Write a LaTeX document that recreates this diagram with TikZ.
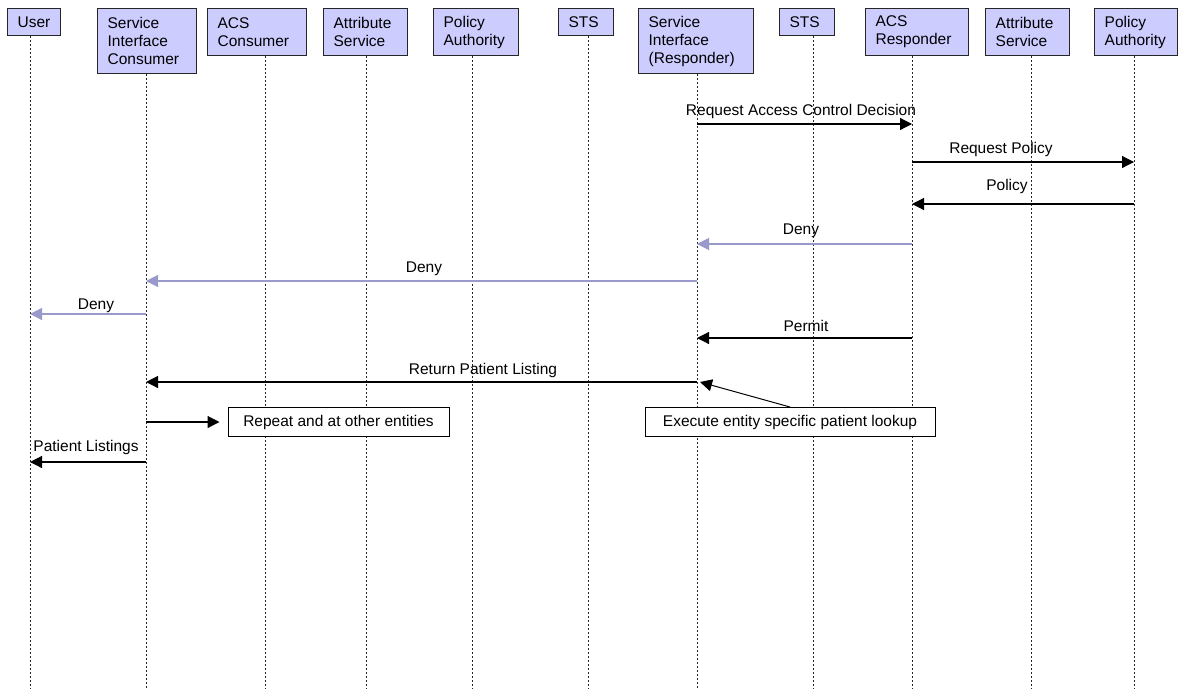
\documentclass[tikz,border=0pt]{standalone}
\usepackage{fontspec}
\setmainfont{Liberation Sans}
\usepackage{xcolor}
\usetikzlibrary{arrows.meta}

\definecolor{actorfill}{HTML}{CCCCFF}
\definecolor{denycolor}{HTML}{9999CC}

\tikzset{
	actor/.style={draw=black!85, fill=actorfill, line width=1.3pt, anchor=north west, align=left, inner xsep=10pt, inner ysep=0pt, font=\fontsize{15.5}{18}\selectfont},
	lifeline/.style={dash pattern=on 2pt off 2pt, line width=1pt, black!85},
	msg/.style={line width=1.2pt, -{Triangle[length=12pt,width=12pt]}},
	denymsg/.style={line width=1.2pt, draw=denycolor, -{Triangle[length=12pt,width=12pt,fill=denycolor]}},
	msglabel/.style={anchor=base, inner sep=0pt, font=\fontsize{15.5}{18}\selectfont},
	note/.style={draw, fill=white, line width=1pt, minimum height=29pt, inner sep=0pt, font=\fontsize{15.5}{18}\selectfont}
}

\begin{document}
\begin{tikzpicture}[x=1pt,y=-1pt]
		\useasboundingbox (0,0) rectangle (1178,689);
		\node[actor, text width=33pt, minimum height=27pt] (user) at (7,8) {User};
		\node[actor, text width=79pt, minimum height=65pt] (sic) at (97,8) {Service\\Interface\\Consumer};
		\node[actor, text width=79pt, minimum height=47pt] (acsc) at (207,8) {ACS\\Consumer};
		\node[actor, text width=64pt, minimum height=47pt] (attr) at (323,8) {Attribute\\Service};
		\node[actor, text width=65pt, minimum height=47pt] (pa) at (433,8) {Policy\\Authority};
		\node[actor, text width=35pt, minimum height=27pt] (sts) at (558,8) {STS};
		\node[actor, text width=95pt, minimum height=65pt] (sir) at (638,8) {Service\\Interface\\(Responder)};
		\node[actor, text width=35pt, minimum height=27pt] (sts2) at (779,8) {STS};
		\node[actor, text width=83pt, minimum height=47pt] (acsr) at (865,8) {ACS\\Responder};
		\node[actor, text width=64pt, minimum height=47pt] (attr2) at (985,8) {Attribute\\Service};
		\node[actor, text width=63pt, minimum height=47pt] (pa2) at (1094,8) {Policy\\Authority};

		\coordinate (user-end) at (30,689);
		\coordinate (sic-end) at (146,689);
		\coordinate (acsc-end) at (265,689);
		\coordinate (attr-end) at (366,689);
		\coordinate (pa-end) at (472,689);
		\coordinate (sts-end) at (588,689);
		\coordinate (sir-end) at (697,689);
		\coordinate (sts2-end) at (813,689);
		\coordinate (acsr-end) at (912,689);
		\coordinate (attr2-end) at (1031,689);
		\coordinate (pa2-end) at (1134,689);
		\draw[lifeline] (user-end |- user.south) -- (user-end);
		\draw[lifeline] (sic-end |- sic.south) -- (sic-end);
		\draw[lifeline] (acsc-end |- acsc.south) -- (acsc-end);
		\draw[lifeline] (attr-end |- attr.south) -- (attr-end);
		\draw[lifeline] (pa-end |- pa.south) -- (pa-end);
		\draw[lifeline] (sts-end |- sts.south) -- (sts-end);
		\draw[lifeline] (sir-end |- sir.south) -- (sir-end);
		\draw[lifeline] (sts2-end |- sts2.south) -- (sts2-end);
		\draw[lifeline] (acsr-end |- acsr.south) -- (acsr-end);
		\draw[lifeline] (attr2-end |- attr2.south) -- (attr2-end);
		\draw[lifeline] (pa2-end |- pa2.south) -- (pa2-end);

		\coordinate (m1) at (0,124);
		\coordinate (m2) at (0,162);
		\coordinate (m3) at (0,204);
		\coordinate (m4) at (0,244);
		\coordinate (m5) at (0,281);
		\coordinate (m6) at (0,314);
		\coordinate (m7) at (0,338);
		\coordinate (m8) at (0,382);
		\coordinate (m9) at (0,462);

		\node[note, minimum width=221pt] (repeat) at (338.5,422) {Repeat and at other entities};
		\node[note, minimum width=290pt] (exec) at (790,422) {Execute entity specific patient lookup};

		\draw[msg] (sir-end |- m1) -- (acsr-end |- m1);
		\draw[msg] (acsr-end |- m2) -- (pa2-end |- m2);
		\draw[msg] (pa2-end |- m3) -- (acsr-end |- m3);
		\draw[denymsg] (acsr-end |- m4) -- (sir-end |- m4);
		\draw[denymsg] (sir-end |- m5) -- (sic-end |- m5);
		\draw[denymsg] (sic-end |- m6) -- (user-end |- m6);
		\draw[msg] (acsr-end |- m7) -- (sir-end |- m7);
		\draw[msg] (sir-end |- m8) -- (sic-end |- m8);
		\draw[msg, line width=1pt] (exec.north) -- ([xshift=3pt]sir-end |- m8);
		\draw[msg, shorten >=8pt] (sic-end |- repeat.west) -- (repeat.west);
		\draw[msg] (sic-end |- m9) -- (user-end |- m9);

		\node[msglabel] (l1) at (801,115) {Request Access Control Decision};
		\node[msglabel] (l2) at (1001,153) {Request Policy};
		\node[msglabel] (l3) at (1007,190) {Policy};
		\node[msglabel] (l4) at (801,234) {Deny};
		\node[msglabel] (l5) at (424,272) {Deny};
		\node[msglabel] (l6) at (96,309) {Deny};
		\node[msglabel] (l7) at (806,331) {Permit};
		\node[msglabel] (l8) at (483,374) {Return Patient Listing};
		\node[msglabel] (l9) at (86,451) {Patient Listings};
\end{tikzpicture}
\end{document}
